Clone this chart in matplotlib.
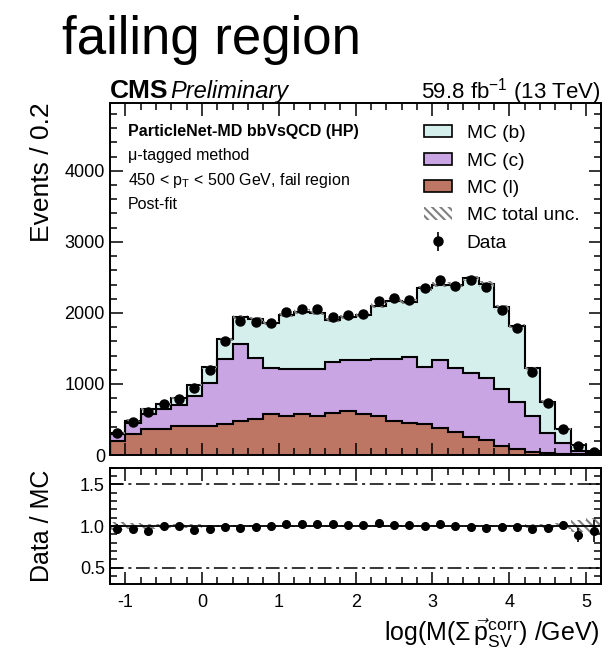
import numpy as np
import matplotlib
matplotlib.use("Agg")
import matplotlib.pyplot as plt
from matplotlib.patches import Patch
from matplotlib.ticker import MultipleLocator

plt.rcParams["font.family"] = ["Liberation Sans", "DejaVu Sans"]
plt.rcParams["mathtext.fontset"] = "custom"
plt.rcParams["mathtext.rm"] = "Liberation Sans"
plt.rcParams["mathtext.it"] = "Liberation Sans:italic"
plt.rcParams["mathtext.bf"] = "Liberation Sans:bold"
plt.rcParams["axes.unicode_minus"] = False
plt.rcParams["hatch.linewidth"] = 1.5

# binning: log(M) from -1.2 to 5.2 in steps of 0.2
x_lo, x_hi, bin_w = -1.2, 5.2, 0.2

# post-fit MC templates (events per bin)
mc_l = np.array([202, 296, 366, 366, 413, 413, 413, 436, 483, 507, 577, 554,
                 573, 549, 596, 615, 577, 554, 483, 455, 436, 375, 329, 258,
                 211, 127, 84, 47, 23, 14, 9, 9])
mc_c = np.array([94, 150, 211, 282, 291, 422, 605, 920, 1075, 854, 643, 652,
                 633, 657, 718, 723, 761, 793, 873, 920, 798, 963, 891, 892,
                 868, 798, 667, 502, 292, 160, 52, 14])
mc_b = np.array([19, 37, 66, 70, 94, 151, 216, 273, 390, 549, 634, 765,
                 812, 789, 587, 610, 633, 756, 817, 784, 1113, 1056, 1174, 1337,
                 1329, 1154, 1065, 671, 436, 187, 80, 29])
data = np.array([305, 464, 604, 718, 795, 943, 1195, 1609, 1893, 1879, 1854, 2010,
                 2058, 2051, 1939, 1971, 1990, 2170, 2205, 2180, 2356, 2461, 2384, 2465,
                 2360, 2046, 1794, 1175, 730, 365, 126, 49])
# relative total MC uncertainty per bin
mc_unc = np.array([0.045, 0.035, 0.03, 0.025, 0.02, 0.02, 0.015, 0.015, 0.015, 0.015,
                   0.015, 0.015, 0.015, 0.015, 0.015, 0.015, 0.015, 0.015, 0.015, 0.015,
                   0.015, 0.015, 0.015, 0.015, 0.015, 0.015, 0.015, 0.02, 0.025, 0.04,
                   0.07, 0.1])

col_b = "#d5efed"
col_c = "#c9a5e3"
col_l = "#bd7564"
hatch_col = "#808080"
hatch = "\\" * 4

edges = np.linspace(x_lo, x_hi, len(data) + 1)
centers = 0.5 * (edges[1:] + edges[:-1])
lvl1 = mc_l
lvl2 = mc_l + mc_c
total = mc_l + mc_c + mc_b

fig = plt.figure(figsize=(6.1, 6.5), dpi=100)
ax = fig.add_axes([0.180, 0.300, 0.806, 0.541])
rax = fig.add_axes([0.180, 0.101, 0.806, 0.1795])

# stacked templates
ax.stairs(lvl1, edges, baseline=0, fill=True, color=col_l, lw=0)
ax.stairs(lvl2, edges, baseline=lvl1, fill=True, color=col_c, lw=0)
ax.stairs(total, edges, baseline=lvl2, fill=True, color=col_b, lw=0)
for lvl in (lvl1, lvl2, total):
    ax.stairs(lvl, edges, baseline=0, color="black", lw=1.5)

ax.stairs(total * (1 + mc_unc), edges, baseline=total * (1 - mc_unc), fill=True,
          facecolor="none", edgecolor=hatch_col, hatch=hatch, lw=0)

dat = ax.errorbar(centers, data, yerr=np.sqrt(data), fmt="o", color="black",
                  ms=6.5, elinewidth=1.2, capsize=0)

handles = [
    Patch(facecolor=col_b, edgecolor="black", lw=1.2, label="MC (b)"),
    Patch(facecolor=col_c, edgecolor="black", lw=1.2, label="MC (c)"),
    Patch(facecolor=col_l, edgecolor="black", lw=1.2, label="MC (l)"),
    Patch(facecolor="none", edgecolor=hatch_col, hatch=hatch, lw=0, label="MC total unc."),
    dat,
]
handles[-1].set_label("Data")
ax.legend(handles=handles, loc="upper left", bbox_to_anchor=(0.64, 0.938),
          frameon=False, fontsize=13.8, handlelength=1.45, handleheight=0.6,
          handletextpad=0.75, labelspacing=0.54, borderpad=0, borderaxespad=0)

ax.set_xlim(x_lo, x_hi)
ax.set_ylim(0, 4950)
ax.xaxis.set_major_locator(MultipleLocator(1))
ax.xaxis.set_minor_locator(MultipleLocator(0.2))
ax.yaxis.set_major_locator(MultipleLocator(1000))
ax.yaxis.set_minor_locator(MultipleLocator(200))
ax.tick_params(labelbottom=False)

info = ["ParticleNet-MD bbVsQCD (HP)", "\u03bc-tagged method",
        r"450 < p$_{\rm T}$ < 500 GeV, fail region", "Post-fit"]
for i, line in enumerate(info):
    ax.text(0.037, 0.920 - 0.069 * i, line, transform=ax.transAxes, fontsize=11.5,
            fontweight="bold" if i == 0 else "normal", va="center", ha="left")

# ratio panel
ratio = data / total
rax.stairs(1 + mc_unc, edges, baseline=1 - mc_unc, fill=True, facecolor="none",
           edgecolor=hatch_col, hatch=hatch, lw=0)
rax.axhline(1.0, color="black", lw=1.3)
for yv in (0.5, 1.5):
    rax.axhline(yv, color="black", lw=1.1, dashes=(9, 3, 2, 3))
rax.errorbar(centers, ratio, yerr=np.sqrt(data) / total, fmt="o", color="black",
             ms=5.5, elinewidth=1.2, capsize=0)
rax.set_xlim(x_lo, x_hi)
rax.set_ylim(0.3, 1.7)
rax.xaxis.set_major_locator(MultipleLocator(1))
rax.xaxis.set_minor_locator(MultipleLocator(0.2))
rax.yaxis.set_major_locator(MultipleLocator(0.5))
rax.yaxis.set_minor_locator(MultipleLocator(0.1))
rax.yaxis.set_major_formatter(matplotlib.ticker.FormatStrFormatter("%.1f"))

for a in (ax, rax):
    a.tick_params(which="both", direction="in", top=True, right=True, width=1.1,
                  labelsize=13)
    a.tick_params(which="major", length=9)
    a.tick_params(which="minor", length=5)
    for s in a.spines.values():
        s.set_linewidth(1.4)
rax.tick_params(axis="x", pad=7)

fig.text(0.069, 0.842, "Events / 0.2", rotation=90, ha="center", va="top", fontsize=19)
fig.text(0.069, 0.191, "Data / MC", rotation=90, ha="center", va="center", fontsize=18)
fig.text(0.984, 0.026, r"log(M($\Sigma\,\vec{\mathrm{p}}_{\rm SV}^{\rm corr}$) /GeV)",
         ha="right", va="center", fontsize=18)

fig.text(0.180, 0.849, "CMS", fontsize=19, fontweight="bold", ha="left", va="baseline")
fig.text(0.279, 0.849, "Preliminary", fontsize=17, style="italic", ha="left", va="baseline")
fig.text(0.984, 0.849, r"59.8 fb$^{-1}$ (13 TeV)", fontsize=16, ha="right", va="baseline")

fig.text(0.102, 0.938, "failing region", fontsize=38, ha="left", va="center")

fig.savefig("out.png", dpi=100)
